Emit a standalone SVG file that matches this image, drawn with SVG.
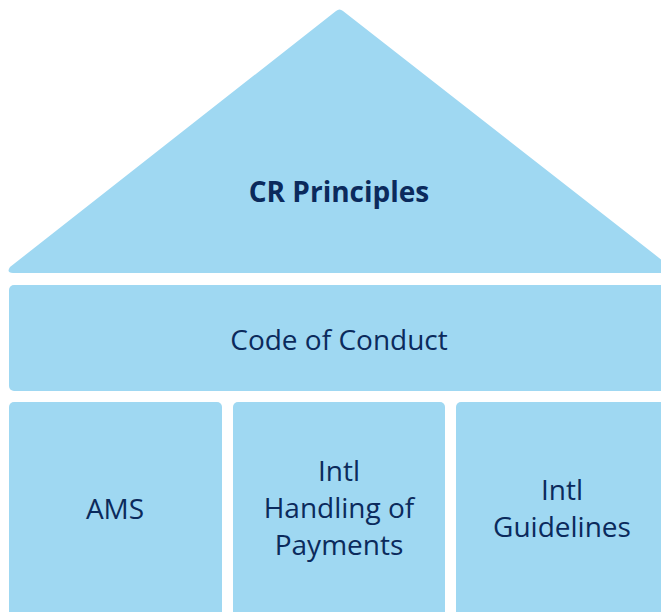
<svg xmlns="http://www.w3.org/2000/svg" width="661" height="612" viewBox="0 0 661 612">
<style>
.shape{fill:#9fd8f2}
.t{font-family:"Open Sans","Noto Sans","Liberation Sans",sans-serif;font-size:28px;fill:#0b2a5c;text-anchor:middle}
.b{font-weight:bold}
</style>
<rect width="661" height="612" fill="#ffffff"/>
<g id="roof">
<path class="shape" d="M336,11 Q339.5,8 343,11 L672,268 Q676,273 670,273 L13,273 Q6,273 10,267 Z"/>
<text class="t b" x="339" y="202">CR Principles</text>
</g>
<g id="code-of-conduct">
<rect class="shape" x="9" y="285" width="670" height="106" rx="5"/>
<text class="t" x="339" y="350">Code of Conduct</text>
</g>
<g id="ams">
<rect class="shape" x="9" y="402" width="213" height="230" rx="5"/>
<text class="t" x="115" y="519">AMS</text>
</g>
<g id="payments">
<rect class="shape" x="233" y="402" width="212" height="230" rx="5"/>
<text class="t" x="339" y="481">Intl</text>
<text class="t" x="339" y="518">Handling of</text>
<text class="t" x="339" y="555">Payments</text>
</g>
<g id="guidelines">
<rect class="shape" x="456" y="402" width="220" height="230" rx="5"/>
<text class="t" x="562" y="500">Intl</text>
<text class="t" x="562" y="537">Guidelines</text>
</g>
<g id="connectors"></g>
</svg>
